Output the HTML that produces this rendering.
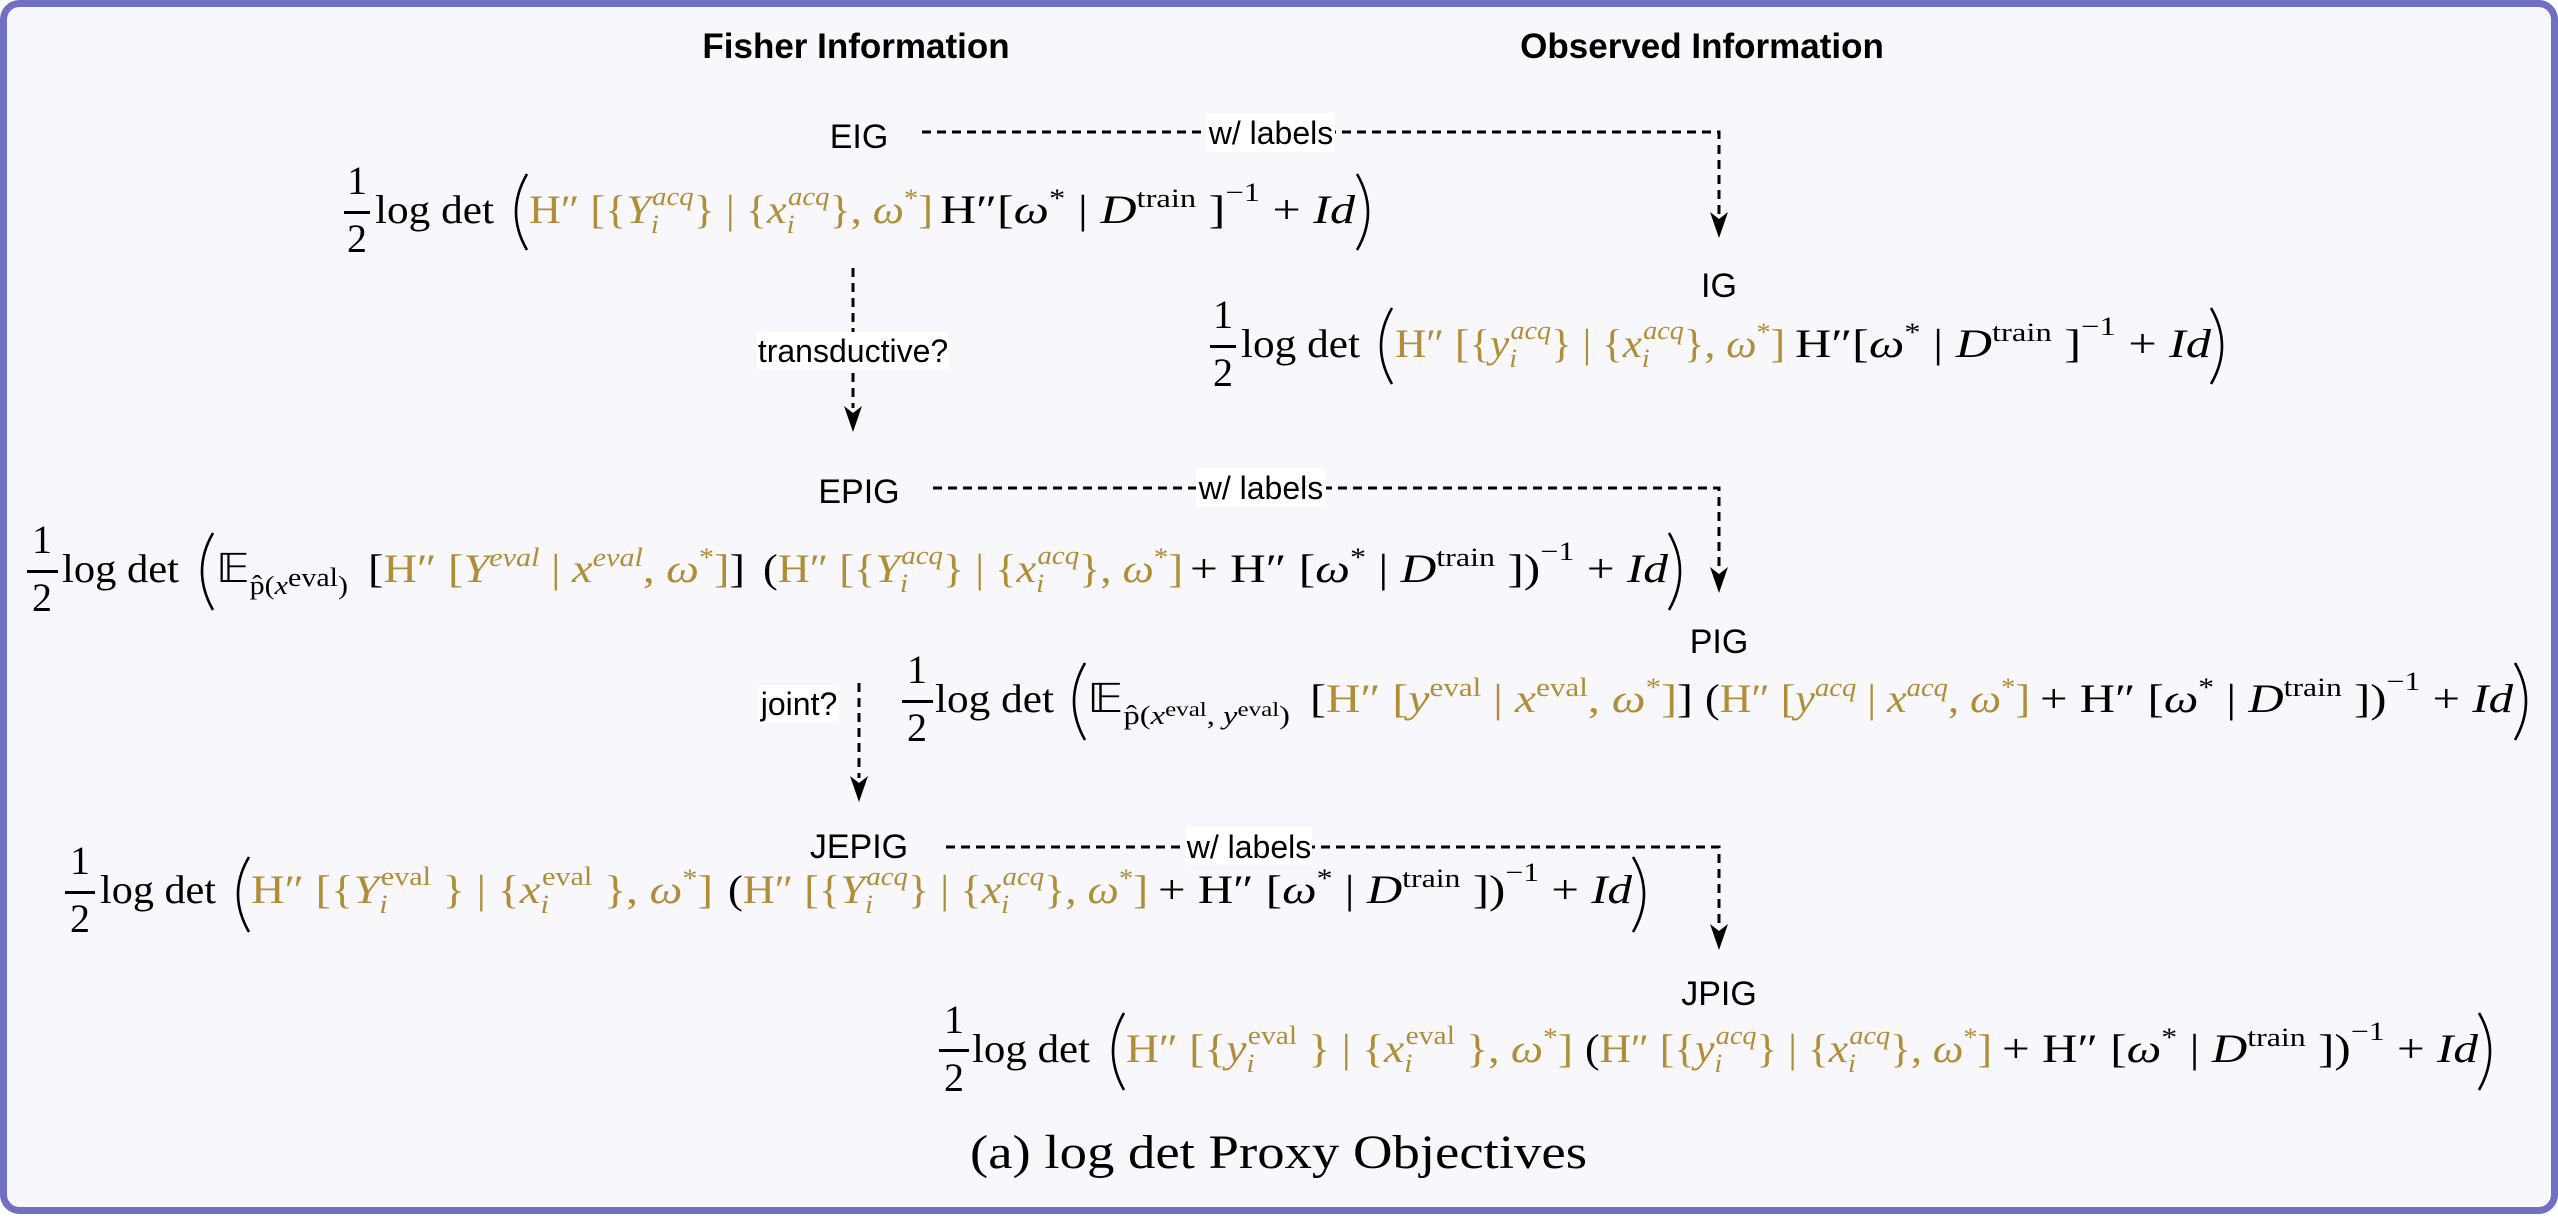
<!DOCTYPE html>
<html><head><meta charset="utf-8"><style>
html,body{margin:0;padding:0;background:#fff}
svg{display:block}
.lab{font-family:"Liberation Sans",sans-serif;font-size:34px;fill:#000}
.lb{font-family:"Liberation Sans",sans-serif;font-size:32px;fill:#000}
.hd{font-family:"Liberation Sans",sans-serif;font-size:35px;font-weight:bold;fill:#000}
.m{font-family:"Liberation Serif",serif;font-size:40px;fill:#000}
.g{fill:#b08d37}
.k{fill:#000}
.i{font-style:italic}
.s{font-size:26px}
.dl{stroke:#000;stroke-width:3;stroke-dasharray:9 6;fill:none}
.par{stroke:#000;stroke-width:2.6;fill:none}
</style></head><body>
<svg width="2558" height="1218" viewBox="0 0 2558 1218" xmlns="http://www.w3.org/2000/svg">
<rect x="3.5" y="3.5" width="2551" height="1207" rx="16" fill="#f8f8fc" stroke="#7070c0" stroke-width="7"/>

<text class="hd" x="856" y="58" text-anchor="middle">Fisher Information</text>
<text class="hd" x="1702" y="58" text-anchor="middle">Observed Information</text>

<!-- connectors -->
<path class="dl" d="M922 132 H1719 V214"/>
<polygon points="1719,238 1710,212 1719,219 1728,212" fill="#000"/>
<path class="dl" d="M933 488 H1719 V569"/>
<polygon points="1719,593 1710,567 1719,574 1728,567" fill="#000"/>
<path class="dl" d="M946 847 H1719 V926"/>
<polygon points="1719,950 1710,924 1719,931 1728,924" fill="#000"/>
<path class="dl" d="M853 268 V408"/>
<polygon points="853,432 844,406 853,413 862,406" fill="#000"/>
<path class="dl" d="M859 683 V778"/>
<polygon points="859,802 850,776 859,783 868,776" fill="#000"/>

<rect x="1207" y="113" width="128" height="39" fill="#fff"/>
<text class="lb" x="1271" y="144" text-anchor="middle">w/ labels</text>
<rect x="1196" y="468" width="130" height="39" fill="#fff"/>
<text class="lb" x="1261" y="499" text-anchor="middle">w/ labels</text>
<rect x="1186" y="827" width="126" height="38" fill="#fff"/>
<text class="lb" x="1249" y="858" text-anchor="middle">w/ labels</text>
<rect x="757" y="332" width="192" height="38" fill="#fff"/>
<text class="lb" x="853" y="362" text-anchor="middle">transductive?</text>
<rect x="759" y="685" width="80" height="38" fill="#fff"/>
<text class="lb" x="799" y="715" text-anchor="middle">joint?</text>

<text class="lab" x="859" y="148" text-anchor="middle">EIG</text>
<text class="lab" x="1719" y="297" text-anchor="middle">IG</text>
<text class="lab" x="859" y="503" text-anchor="middle">EPIG</text>
<text class="lab" x="1719" y="653" text-anchor="middle">PIG</text>
<text class="lab" x="859" y="858" text-anchor="middle">JEPIG</text>
<text class="lab" x="1719" y="1005" text-anchor="middle">JPIG</text>

<!-- EIG B=223 -->
<g>
<text class="m" x="357" y="194" text-anchor="middle">1</text>
<rect x="344" y="211" width="26" height="3"/>
<text class="m" x="357" y="252" text-anchor="middle">2</text>
<text class="m" x="375" y="223" textLength="119" lengthAdjust="spacingAndGlyphs">log det</text>
<path class="par" d="M527 174 Q505 212 527 250"/>
<text class="m g" x="529" y="223" textLength="404" lengthAdjust="spacingAndGlyphs">H″ [{<tspan class="i">Y</tspan><tspan class="s i" dy="10">i</tspan><tspan class="s i" dx="-6" dy="-28">acq</tspan><tspan dy="18">} | {</tspan><tspan class="i">x</tspan><tspan class="s i" dy="10">i</tspan><tspan class="s i" dx="-6" dy="-28">acq</tspan><tspan dy="18">}, </tspan><tspan class="i">ω</tspan><tspan class="s" dy="-16">*</tspan><tspan dy="16">]</tspan></text>
<text class="m k" x="940" y="223" textLength="415" lengthAdjust="spacingAndGlyphs">H″[<tspan class="i">ω</tspan><tspan class="s" dy="-16">*</tspan><tspan dy="16"> | </tspan><tspan class="i">D</tspan><tspan class="s" dy="-16">train</tspan><tspan dy="16"> ]</tspan><tspan class="s" dy="-22">−1</tspan><tspan dy="22"> + </tspan><tspan class="i">Id</tspan></text>
<path class="par" d="M1357 174 Q1379 212 1357 250"/>
</g>

<!-- IG B=357 -->
<g>
<text class="m" x="1223" y="328" text-anchor="middle">1</text>
<rect x="1210" y="345" width="26" height="3"/>
<text class="m" x="1223" y="386" text-anchor="middle">2</text>
<text class="m" x="1241" y="357" textLength="119" lengthAdjust="spacingAndGlyphs">log det</text>
<path class="par" d="M1392 308 Q1370 346 1392 384"/>
<text class="m g" x="1395" y="357" textLength="390" lengthAdjust="spacingAndGlyphs">H″ [{<tspan class="i">y</tspan><tspan class="s i" dy="10">i</tspan><tspan class="s i" dx="-6" dy="-28">acq</tspan><tspan dy="18">} | {</tspan><tspan class="i">x</tspan><tspan class="s i" dy="10">i</tspan><tspan class="s i" dx="-6" dy="-28">acq</tspan><tspan dy="18">}, </tspan><tspan class="i">ω</tspan><tspan class="s" dy="-16">*</tspan><tspan dy="16">]</tspan></text>
<text class="m k" x="1795" y="357" textLength="416" lengthAdjust="spacingAndGlyphs">H″[<tspan class="i">ω</tspan><tspan class="s" dy="-16">*</tspan><tspan dy="16"> | </tspan><tspan class="i">D</tspan><tspan class="s" dy="-16">train</tspan><tspan dy="16"> ]</tspan><tspan class="s" dy="-22">−1</tspan><tspan dy="22"> + </tspan><tspan class="i">Id</tspan></text>
<path class="par" d="M2211 308 Q2233 346 2211 384"/>
</g>

<!-- EPIG B=582 -->
<g>
<text class="m" x="42" y="553" text-anchor="middle">1</text>
<rect x="27" y="570" width="31" height="3"/>
<text class="m" x="42" y="611" text-anchor="middle">2</text>
<text class="m" x="62" y="582" textLength="117" lengthAdjust="spacingAndGlyphs">log det</text>
<path class="par" d="M213 533 Q191 571 213 610"/>
<text class="m k" x="216" y="582" textLength="132" lengthAdjust="spacingAndGlyphs">𝔼<tspan class="s" dy="12">p̂(</tspan><tspan class="s i">x</tspan><tspan class="s" dy="-8" font-size="20">eval</tspan><tspan class="s" dy="8">)</tspan></text>
<text class="m g" x="368" y="582" textLength="377" lengthAdjust="spacingAndGlyphs"><tspan class="k">[</tspan>H″ [<tspan class="i">Y</tspan><tspan class="s i" dy="-16">eval</tspan><tspan dy="16"> | </tspan><tspan class="i">x</tspan><tspan class="s i" dy="-16">eval</tspan><tspan dy="16">, </tspan><tspan class="i">ω</tspan><tspan class="s" dy="-16">*</tspan><tspan dy="16">]</tspan><tspan class="k">]</tspan></text>
<text class="m g" x="763" y="582" textLength="420" lengthAdjust="spacingAndGlyphs"><tspan class="k">(</tspan>H″ [{<tspan class="i">Y</tspan><tspan class="s i" dy="10">i</tspan><tspan class="s i" dx="-6" dy="-28">acq</tspan><tspan dy="18">} | {</tspan><tspan class="i">x</tspan><tspan class="s i" dy="10">i</tspan><tspan class="s i" dx="-6" dy="-28">acq</tspan><tspan dy="18">}, </tspan><tspan class="i">ω</tspan><tspan class="s" dy="-16">*</tspan><tspan dy="16">]</tspan></text>
<text class="m k" x="1190" y="582" textLength="478" lengthAdjust="spacingAndGlyphs">+ H″ [<tspan class="i">ω</tspan><tspan class="s" dy="-16">*</tspan><tspan dy="16"> | </tspan><tspan class="i">D</tspan><tspan class="s" dy="-16">train</tspan><tspan dy="16"> ])</tspan><tspan class="s" dy="-22">−1</tspan><tspan dy="22"> + </tspan><tspan class="i">Id</tspan></text>
<path class="par" d="M1669 533 Q1691 571 1669 610"/>
</g>

<!-- PIG B=712 -->
<g>
<text class="m" x="917" y="683" text-anchor="middle">1</text>
<rect x="902" y="700" width="31" height="3"/>
<text class="m" x="917" y="741" text-anchor="middle">2</text>
<text class="m" x="935" y="712" textLength="119" lengthAdjust="spacingAndGlyphs">log det</text>
<path class="par" d="M1085 663 Q1063 701 1085 740"/>
<text class="m k" x="1087" y="712" textLength="203" lengthAdjust="spacingAndGlyphs">𝔼<tspan class="s" dy="12">p̂(</tspan><tspan class="s i">x</tspan><tspan dy="-8" font-size="20">eval</tspan><tspan class="s" dy="8">, </tspan><tspan class="s i">y</tspan><tspan dy="-8" font-size="20">eval</tspan><tspan class="s" dy="8">)</tspan></text>
<text class="m g" x="1310" y="712" textLength="383" lengthAdjust="spacingAndGlyphs"><tspan class="k">[</tspan>H″ [<tspan class="i">y</tspan><tspan class="s" dy="-16">eval</tspan><tspan dy="16"> | </tspan><tspan class="i">x</tspan><tspan class="s" dy="-16">eval</tspan><tspan dy="16">, </tspan><tspan class="i">ω</tspan><tspan class="s" dy="-16">*</tspan><tspan dy="16">]</tspan><tspan class="k">]</tspan></text>
<text class="m g" x="1705" y="712" textLength="325" lengthAdjust="spacingAndGlyphs"><tspan class="k">(</tspan>H″ [<tspan class="i">y</tspan><tspan class="s i" dy="-16">acq</tspan><tspan dy="16"> | </tspan><tspan class="i">x</tspan><tspan class="s i" dy="-16">acq</tspan><tspan dy="16">, </tspan><tspan class="i">ω</tspan><tspan class="s" dy="-16">*</tspan><tspan dy="16">]</tspan></text>
<text class="m k" x="2040" y="712" textLength="473" lengthAdjust="spacingAndGlyphs">+ H″ [<tspan class="i">ω</tspan><tspan class="s" dy="-16">*</tspan><tspan dy="16"> | </tspan><tspan class="i">D</tspan><tspan class="s" dy="-16">train</tspan><tspan dy="16"> ])</tspan><tspan class="s" dy="-22">−1</tspan><tspan dy="22"> + </tspan><tspan class="i">Id</tspan></text>
<path class="par" d="M2515 663 Q2537 701 2515 740"/>
</g>

<!-- JEPIG B=903 -->
<g>
<text class="m" x="80" y="874" text-anchor="middle">1</text>
<rect x="65" y="891" width="30" height="3"/>
<text class="m" x="80" y="932" text-anchor="middle">2</text>
<text class="m" x="100" y="903" textLength="116" lengthAdjust="spacingAndGlyphs">log det</text>
<path class="par" d="M249 857 Q227 894 249 932"/>
<text class="m g" x="251" y="903" textLength="462" lengthAdjust="spacingAndGlyphs">H″ [{<tspan class="i">Y</tspan><tspan class="s i" dy="10">i</tspan><tspan class="s" dx="-6" dy="-28">eval</tspan><tspan dy="18"> } | {</tspan><tspan class="i">x</tspan><tspan class="s i" dy="10">i</tspan><tspan class="s" dx="-6" dy="-28">eval</tspan><tspan dy="18"> }, </tspan><tspan class="i">ω</tspan><tspan class="s" dy="-16">*</tspan><tspan dy="16">]</tspan></text>
<text class="m g" x="728" y="903" textLength="420" lengthAdjust="spacingAndGlyphs"><tspan class="k">(</tspan>H″ [{<tspan class="i">Y</tspan><tspan class="s i" dy="10">i</tspan><tspan class="s i" dx="-6" dy="-28">acq</tspan><tspan dy="18">} | {</tspan><tspan class="i">x</tspan><tspan class="s i" dy="10">i</tspan><tspan class="s i" dx="-6" dy="-28">acq</tspan><tspan dy="18">}, </tspan><tspan class="i">ω</tspan><tspan class="s" dy="-16">*</tspan><tspan dy="16">]</tspan></text>
<text class="m k" x="1158" y="903" textLength="474" lengthAdjust="spacingAndGlyphs">+ H″ [<tspan class="i">ω</tspan><tspan class="s" dy="-16">*</tspan><tspan dy="16"> | </tspan><tspan class="i">D</tspan><tspan class="s" dy="-16">train</tspan><tspan dy="16"> ])</tspan><tspan class="s" dy="-22">−1</tspan><tspan dy="22"> + </tspan><tspan class="i">Id</tspan></text>
<path class="par" d="M1633 857 Q1655 894 1633 932"/>
</g>

<!-- JPIG B=1062 -->
<g>
<text class="m" x="954" y="1033" text-anchor="middle">1</text>
<rect x="939" y="1049" width="30" height="3"/>
<text class="m" x="954" y="1091" text-anchor="middle">2</text>
<text class="m" x="972" y="1062" textLength="118" lengthAdjust="spacingAndGlyphs">log det</text>
<path class="par" d="M1124 1013 Q1102 1051 1124 1090"/>
<text class="m g" x="1126" y="1062" textLength="447" lengthAdjust="spacingAndGlyphs">H″ [{<tspan class="i">y</tspan><tspan class="s i" dy="10">i</tspan><tspan class="s" dx="-6" dy="-28">eval</tspan><tspan dy="18"> } | {</tspan><tspan class="i">x</tspan><tspan class="s i" dy="10">i</tspan><tspan class="s" dx="-6" dy="-28">eval</tspan><tspan dy="18"> }, </tspan><tspan class="i">ω</tspan><tspan class="s" dy="-16">*</tspan><tspan dy="16">]</tspan></text>
<text class="m g" x="1585" y="1062" textLength="407" lengthAdjust="spacingAndGlyphs"><tspan class="k">(</tspan>H″ [{<tspan class="i">y</tspan><tspan class="s i" dy="10">i</tspan><tspan class="s i" dx="-6" dy="-28">acq</tspan><tspan dy="18">} | {</tspan><tspan class="i">x</tspan><tspan class="s i" dy="10">i</tspan><tspan class="s i" dx="-6" dy="-28">acq</tspan><tspan dy="18">}, </tspan><tspan class="i">ω</tspan><tspan class="s" dy="-16">*</tspan><tspan dy="16">]</tspan></text>
<text class="m k" x="2002" y="1062" textLength="476" lengthAdjust="spacingAndGlyphs">+ H″ [<tspan class="i">ω</tspan><tspan class="s" dy="-16">*</tspan><tspan dy="16"> | </tspan><tspan class="i">D</tspan><tspan class="s" dy="-16">train</tspan><tspan dy="16"> ])</tspan><tspan class="s" dy="-22">−1</tspan><tspan dy="22"> + </tspan><tspan class="i">Id</tspan></text>
<path class="par" d="M2479 1013 Q2501 1051 2479 1090"/>
</g>

<text x="970" y="1168" font-family="Liberation Serif, serif" font-size="48" textLength="617" lengthAdjust="spacingAndGlyphs">(a) log det Proxy Objectives</text>
</svg>
</body></html>
